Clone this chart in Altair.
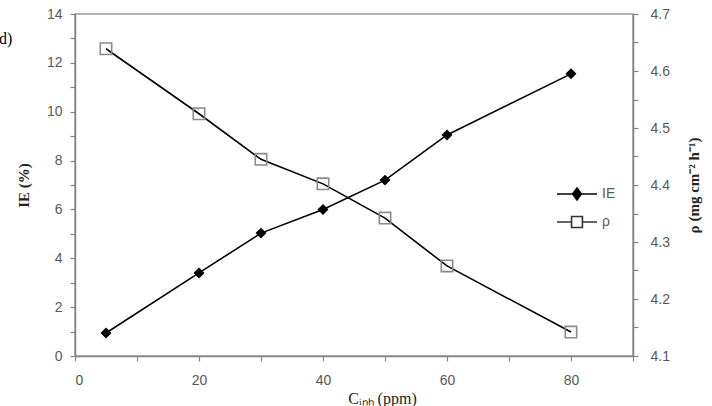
import altair as alt
import pandas as pd

# Inhibitor concentration (ppm)
conc = [5, 20, 30, 40, 50, 60, 80]
# Inhibition efficiency IE (%)
ie = [0.94, 3.4, 5.03, 6.0, 7.2, 9.05, 11.55]
# Corrosion rate rho (mg cm^-2 h^-1)
rho = [4.639, 4.525, 4.445, 4.402, 4.342, 4.258, 4.142]

series = ["IE", "ρ"]

df = pd.DataFrame({"conc": conc, "ie": ie, "rho": rho})
legend_df = pd.DataFrame({"series": series})

label_font = "Liberation Sans"
title_font = "Liberation Serif"
label_color = "#595959"
axis_color = "#858585"

x_enc = alt.X(
    "conc:Q",
    scale=alt.Scale(domain=[0, 90], nice=False),
    axis=alt.Axis(
        title="Cᵢₙₕ (ppm)",
        values=list(range(0, 100, 10)),
        labelExpr="datum.value % 20 == 0 && datum.value < 90 ? datum.label : ''",
        grid=False,
        tickSize=5,
        labelPadding=12,
        titleFontWeight="normal",
        titleFontSize=16,
        titleX=307,
        titleY=47,
        titleBaseline="alphabetic",
    ),
)

base = alt.Chart(df)

ie_axis = alt.Axis(
    title="IE (%)",
    values=list(range(0, 15)),
    labelExpr="datum.value % 2 == 0 ? datum.label : ''",
    grid=False,
    tickSize=5,
    labelPadding=8,
    titleFontWeight="bold",
    titleX=-52,
    titleBaseline="middle",
)
ie_y = alt.Y("ie:Q", scale=alt.Scale(domain=[0, 14], nice=False), axis=ie_axis)

ie_line = base.mark_line(color="black", strokeWidth=1.6).encode(x=x_enc, y=ie_y)
ie_pts = base.mark_point(
    shape="diamond", filled=True, color="black", size=120, opacity=1
).encode(x=x_enc, y=ie_y)

rho_axis = alt.Axis(
    title="ρ (mg cm⁻² h⁻¹)",
    orient="right",
    values=[round(4.1 + 0.05 * i, 2) for i in range(13)],
    labelExpr="round(datum.value * 100) % 10 == 0 ? format(datum.value, '.1f') : ''",
    grid=False,
    tickSize=5,
    labelPadding=12,
    titleFontWeight="bold",
    titleAngle=270,
    titleX=60,
    titleBaseline="middle",
)
rho_y = alt.Y("rho:Q", scale=alt.Scale(domain=[4.1, 4.7], nice=False), axis=rho_axis)

rho_line = base.mark_line(color="black", strokeWidth=1.6).encode(x=x_enc, y=rho_y)
rho_pts = base.mark_point(
    shape="square", filled=False, color="#8a8a8a", strokeWidth=1.6, size=130, opacity=1
).encode(x=x_enc, y=rho_y)

# Legend entries: line segment with the series marker on it
ie_symbol = "M-2.5,0L2.5,0M0,-0.75L0.55,0L0,0.75L-0.55,0Z"
rho_symbol = "M-2.5,0L-0.68,0M0.68,0L2.5,0M-0.68,-0.68L0.68,-0.68L0.68,0.68L-0.68,0.68Z"

legend_layer = alt.Chart(legend_df).mark_point(filled=True, opacity=0).encode(
    shape=alt.Shape(
        "series:N",
        scale=alt.Scale(domain=series, range=[ie_symbol, rho_symbol]),
        legend=alt.Legend(
            title=None,
            orient="none",
            legendX=493,
            legendY=171,
            symbolSize=256,
            symbolStrokeWidth=1.6,
            symbolOpacity=1,
            labelFont=label_font,
            labelFontSize=14,
            labelColor=label_color,
            labelOffset=16,
            rowPadding=9,
        ),
    ),
    fill=alt.Fill("series:N", scale=alt.Scale(domain=series, range=["black", "white"])),
    stroke=alt.Stroke("series:N", scale=alt.Scale(domain=series, range=["black", "#333333"])),
)

chart = (
    alt.layer(
        alt.layer(ie_line, ie_pts),
        alt.layer(rho_line, rho_pts),
        legend_layer,
    )
    .resolve_scale(y="independent")
    .properties(
        width=558,
        height=342,
        background="white",
        autosize=alt.AutoSizeParams(type="none"),
        padding={"left": 75, "top": 14, "right": 79, "bottom": 50},
        title=alt.TitleParams(
            "d)",
            anchor="start",
            frame="group",
            font=title_font,
            fontSize=16,
            fontWeight="normal",
            color="black",
            baseline="middle",
            offset=0,
            dx=-76,
            dy=48,
        ),
    )
    .configure_view(stroke="#9a9a9a", strokeWidth=1.5)
    .configure_axis(
        labelFont=label_font,
        labelFontSize=14,
        labelColor=label_color,
        titleFont=title_font,
        titleFontSize=15,
        titleColor="#222222",
        domainColor=axis_color,
        domainWidth=1.5,
        tickColor=axis_color,
        tickWidth=1.2,
    )
)

chart.save("out.html", embed_options={"renderer": "svg", "actions": False})
